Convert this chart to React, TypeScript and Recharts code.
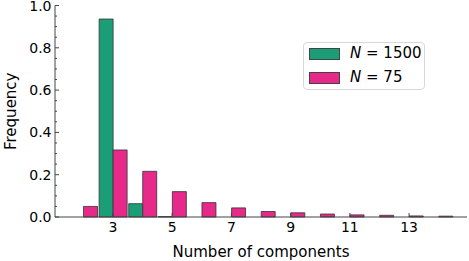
import React from 'react';
import { BarChart, Bar, XAxis, YAxis, Legend } from 'recharts';

// number of components in each fitted model (bins)
const components = [2, 3, 4, 5, 6, 7, 8, 9, 10, 11, 12, 13, 14];
const freqN1500 = [0, 0.936, 0.063, 0.002, 0, 0, 0, 0, 0, 0, 0, 0, 0];
const freqN75 = [0.05, 0.317, 0.216, 0.12, 0.068, 0.043, 0.026, 0.02, 0.014, 0.01, 0.008, 0.005, 0.004];

const xTickLabels = [3, 5, 7, 9, 11, 13];
const yMajorTicks = [0, 0.2, 0.4, 0.6, 0.8, 1.0];
const yMinorTicks = [0.05, 0.1, 0.15, 0.25, 0.3, 0.35, 0.45, 0.5, 0.55, 0.65, 0.7, 0.75, 0.85, 0.9, 0.95];

const seriesLabels = ['1500', '75'];
const seriesColors = ['#1b9e77', '#e7298a'];

const FONT = '"DejaVu Sans", sans-serif';
const AXIS = '#444';

const data = components.map((n, i) => ({ n, a: freqN1500[i], b: freqN75[i] }));

const XTick = (props: any) => {
  const { x, y, payload } = props;
  if (!xTickLabels.includes(payload.value)) return <g />;
  return (
    <g>
      <line x1={x} x2={x} y1={y} y2={y - 4} stroke={AXIS} strokeWidth={1} />
      <text x={x} y={y + 15} textAnchor="middle" fontFamily={FONT} fontSize={14} fill="#000">
        {payload.value}
      </text>
    </g>
  );
};

const YTick = (props: any) => {
  const { x, y, payload } = props;
  const major = yMajorTicks.some(t => Math.abs(t - payload.value) < 1e-9);
  return (
    <g>
      <line x1={x} x2={x + (major ? 4 : 2)} y1={y} y2={y} stroke={AXIS} strokeWidth={1} />
      {major && (
        <text x={x - 3.5} y={y + 5} textAnchor="end" fontFamily={FONT} fontSize={14} fill="#000">
          {payload.value.toFixed(1)}
        </text>
      )}
    </g>
  );
};

const renderLegend = () => (
  <div
    style={{
      position: 'relative',
      width: 122,
      height: 48,
      boxSizing: 'border-box',
      border: '1px solid #d8d8d8',
      borderRadius: 4,
      background: 'rgba(255,255,255,0.8)',
      fontFamily: FONT,
      fontSize: 15,
      color: '#000',
    }}
  >
    {seriesLabels.map((label, i) => (
      <React.Fragment key={label}>
        <div
          style={{
            position: 'absolute',
            left: 5,
            top: 5 + i * 24,
            width: 31,
            height: 12,
            boxSizing: 'border-box',
            background: seriesColors[i],
            border: '1px solid #444',
          }}
        />
        <div style={{ position: 'absolute', left: 46, top: 2 + i * 24, lineHeight: '17px', whiteSpace: 'nowrap' }}>
          <i>N</i> = {label}
        </div>
      </React.Fragment>
    ))}
  </div>
);

export default function App() {
  return (
    <div style={{ position: 'absolute', left: 0, top: 0, width: 469, height: 261, background: '#fff' }}>
      <BarChart
        width={469}
        height={261}
        data={data}
        margin={{ top: 5.5, right: 2, bottom: 0, left: 0 }}
        barGap={0}
        barSize={14}
      >
        <XAxis
          dataKey="n"
          height={44}
          interval={0}
          tickSize={0}
          tickMargin={0}
          tickLine={false}
          tick={<XTick />}
          padding={{ left: 13.5, right: 13.5 }}
          stroke={AXIS}
          label={{
            content: (p: any) => {
              const vb = p.viewBox;
              return (
                <text x={vb.x + vb.width / 2} y={vb.y + 40} textAnchor="middle" fontFamily={FONT} fontSize={15} fill="#000">
                  Number of components
                </text>
              );
            },
          }}
        />
        <XAxis xAxisId="top" dataKey="n" orientation="top" height={0} tick={false} tickLine={false} stroke={AXIS} />
        <YAxis
          type="number"
          domain={[0, 1]}
          ticks={[...yMajorTicks, ...yMinorTicks].sort((p, q) => p - q)}
          interval={0}
          width={55}
          tickSize={0}
          tickMargin={0}
          tickLine={false}
          tick={<YTick />}
          stroke={AXIS}
          label={{
            content: (p: any) => {
              const vb = p.viewBox;
              const cy = vb.y + vb.height / 2;
              return (
                <text
                  x={16}
                  y={cy}
                  transform={`rotate(-90, 16, ${cy})`}
                  textAnchor="middle"
                  fontFamily={FONT}
                  fontSize={15}
                  fill="#000"
                >
                  Frequency
                </text>
              );
            },
          }}
        />
        <YAxis yAxisId="right" orientation="right" width={0} domain={[0, 1]} tick={false} tickLine={false} stroke={AXIS} />
        <Legend
          layout="vertical"
          align="center"
          verticalAlign="middle"
          content={renderLegend}
          wrapperStyle={{ left: 303, top: 42, width: 122, height: 48 }}
        />
        <Bar dataKey="a" name="N = 1500" fill={seriesColors[0]} stroke="#333" strokeWidth={0.8} isAnimationActive={false} />
        <Bar dataKey="b" name="N = 75" fill={seriesColors[1]} stroke="#333" strokeWidth={0.8} isAnimationActive={false} />
      </BarChart>
    </div>
  );
}
